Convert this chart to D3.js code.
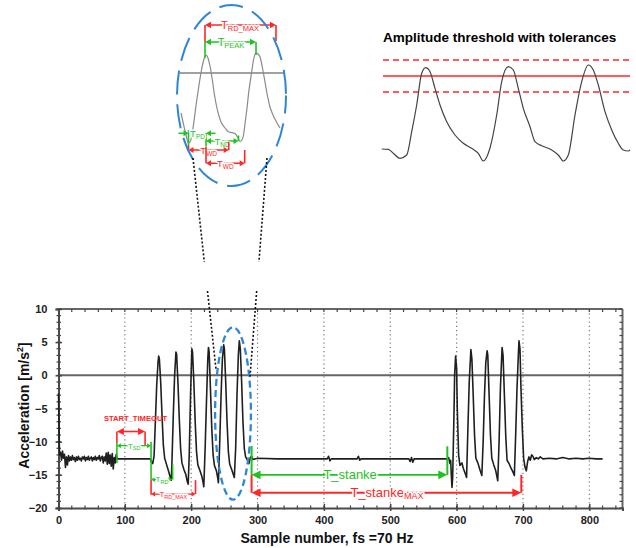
<!DOCTYPE html>
<html><head><meta charset="utf-8">
<script src="https://cdn.jsdelivr.net/npm/d3@7"></script>
<style>
body{margin:0;background:#fff}
svg{display:block;font-family:"Liberation Sans",Arial,sans-serif}
</style></head><body>
<svg id="c" width="636" height="548"></svg>
<script>
// ---------------- data ----------------
const sampleNumber = [0,1.5,3,4.5,6,7.5,9,10.5,12,13.5,15,16.5,18,19.5,21,22.5,24,25.5,27,28.5,30,31.5,33,34.5,36,37.5,39,40.5,42,43.5,45,46.5,48,49.5,51,52.5,54,55.5,57,58.5,60,61.5,63,64.5,66,67.5,69,70.5,72,73.5,75,76.5,78,79.5,81,82.5,84,85.5,87,88.5,
 138,140,142,144,146,148,150,151,152,154,156,158,160,163,166,168,170,171,173,175,177,178,180,182,184,186,189,192,194,195.5,197,199,201,202,204,206,208,210,213,216,218,219,221,223,225,226,227,229,231,233,235,238,240,241,243,245,247,249,250,252,254,256,258,261,263,265,267,269,271,272.5,274,276,278,280,282,285,287,289,291,293,
 300,330,360,395,405,407,409,411,430,450,452,454,456,490,528,530,532,534,536,560,586,588,
 590,591,592,593,594,596,597,598.5,600,601,603,605,608,610,613,615,617,619,621.5,623,625,627,629,632,635,638,640,642,644,646,647,649,651,653,656,659,662,664,666,668.5,670,672,674,676,679,682,685,687,689,691,693,694,695.5,697,699,701,703,705,707,709,711,713,715,717,720,723,726,730,740,750,760,770,780,790,800,810,820];
const acceleration = [-2.7,-12.0,-11.6,-12.8,-11.4,-12.5,-11.9,-13.9,-12.3,-13.5,-12.1,-12.9,-12.3,-12.8,-12.1,-12.7,-12.4,-13.0,-12.3,-12.8,-12.2,-12.7,-12.5,-12.9,-12.3,-12.6,-12.2,-12.9,-12.4,-12.7,-12.2,-12.8,-12.5,-12.3,-12.9,-12.4,-12.7,-12.2,-12.8,-12.4,-12.6,-12.1,-12.9,-12.4,-12.2,-13.2,-12.3,-12.9,-11.7,-13.4,-11.6,-13.3,-12.0,-13.7,-11.8,-14.1,-12.4,-13.2,-11.9,-12.6,
 -12.6,-13.0,-13.3,-12.2,-7,-1.5,2.0,2.9,2.5,-1,-6,-10.5,-12.5,-13.5,-14.5,-15.2,-15.8,-13,-6,0,3.5,3.2,-1,-6.5,-11,-13.2,-14.2,-15,-16,-16.4,-12,-3,4.0,3.5,-1,-7,-11.5,-13.5,-14.3,-15.2,-16.2,-16.8,-11,-4,2.5,4.2,3.6,-2,-8,-12,-13.6,-14.4,-15.5,-16.2,-10,-3,2.5,4.6,4.0,-1,-7,-11.5,-13.4,-14.2,-14.8,-15.4,-11,-3,3,5.2,4.0,-1,-7,-11,-12.3,-12.8,-13.3,-12.4,-12.2,-12.7,
 -12.5,-12.6,-12.6,-12.6,-12.6,-12.2,-12.9,-12.6,-12.6,-12.6,-12.2,-12.8,-12.6,-12.6,-12.6,-13.0,-12.4,-13.1,-12.6,-12.6,-12.6,-12.4,
 -13.3,-12.8,-15,-16.9,-15.5,-6,0,2.9,1,-5,-12,-13.6,-13.2,-14,-14.8,-15.4,-8,-1,3.9,2.5,-3,-9,-12.5,-13.2,-14.2,-15.1,-10,-3,2,3.7,3.0,-3,-9,-12.5,-13.5,-14.4,-15.9,-10,-2,4.2,3,-3,-9,-12.8,-13.3,-14,-14.6,-15.1,-9,-2,3,5.2,4.0,-2,-8,-12.5,-13.8,-14.4,-13,-12.3,-12.8,-12.0,-12.2,-12.7,-12.4,-12.6,-12.3,-12.6,-12.5,-12.6,-12.4,-12.6,-12.5,-12.6,-12.5,-12.6,-12.6];
const xTickValues = [0,100,200,300,400,500,600,700,800];
const yTickValues = [-20,-15,-10,-5,0,5,10];
const gridSamples = [100,200,300,400,500,600,700,800];

// inset A: zoomed single pulse (arbitrary units)
const pulseU = [1,3,6,8.5,10.5,13,16.5,19,21.5,24,26,28,30,32.5,34.5,36.5,39,41.5,45,48,51,53.5,55.5,57.5,60,62,63.5,65,67,69,71.5,73.5,76,78,80,82.5,85,87.5,90,93,96.5,100];
const pulseV = [37,28,15,7,9,22,48,65,80,91,95,92,84,69,55,44,34,27,22,18.5,17.5,17,16,13,8.5,10,15,26,42,60,77,90,97,96,93,82,68,54,43,35,28,22];
const pulseZeroLevel = 77;

// inset B: amplitude threshold with tolerances (arbitrary units)
const thrU = [1.7,8.3,13.3,20,26.7,31.7,36.7,41.7,45.7,50,55,60,66.7,75,83.3,91.7,98.3,103.3,110,116.7,121.7,128.3,133.3,138.3,143.3,150,155,161.7,171.7,178.3,183.3,188.3,195,201.7,208.3,213.3,218.3,225,231.7,238.3,243.3,248.3,250];
const thrV = [21,20.7,16.7,11.7,15,38.3,65,96.7,102.3,98.3,81.7,65,48.3,35,26.7,21.7,16.7,9,22,55,88.3,103.3,100,81.7,61.7,43.3,28.3,24.3,20,15,9,15,55,88.3,105,100,85,58.3,40,26.7,20,19,20];
const threshold = 94, tolerance = 16;

// ---------------- drawing ----------------
const svg = d3.select('#c');
const GREEN = '#1ec31e', RED = '#ff2626', BLUE = '#2e86d6';
const x = d3.scaleLinear().domain([0,850]).range([58.5,622.5]);
const y = d3.scaleLinear().domain([-20,10]).range([508,309]);

function tri(g, tx, ty, dir, len, half, color){
  g.append('path').attr('d',`M${tx},${ty}L${tx-dir*len},${ty-half}L${tx-dir*len},${ty+half}Z`).attr('fill',color);
}
function seg(g,x1,y1,x2,y2,color,w){
  g.append('line').attr('x1',x1).attr('y1',y1).attr('x2',x2).attr('y2',y2).attr('stroke',color).attr('stroke-width',w||1.5);
}
function dim(g,x1,x2,yy,color,len,half,w){
  seg(g,x1+len*0.5,yy,x2-len*0.5,yy,color,w);
  tri(g,x1,yy,-1,len,half,color); tri(g,x2,yy,1,len,half,color);
}
function tlabel(g,cx,by,main,sub,size,subSize,color,weight,subDy){
  const t = g.append('text').attr('x',cx).attr('y',by).attr('text-anchor','middle')
    .attr('fill',color).attr('font-weight',weight||'normal')
    .attr('stroke','#fff').attr('stroke-width',3).attr('paint-order','stroke').attr('stroke-linejoin','round');
  t.append('tspan').attr('font-size',size).text(main);
  if(sub) t.append('tspan').attr('font-size',subSize).attr('dy',subDy).text(sub);
  return t;
}

// grid
const plot = svg.append('g');
gridSamples.forEach(s=>{
  plot.append('line').attr('x1',x(s)).attr('x2',x(s)).attr('y1',y(10)).attr('y2',y(-20))
    .attr('stroke','#777').attr('stroke-width',1.2).attr('stroke-dasharray','1.2,3');
});
// frame: top & right & zero line
plot.append('line').attr('x1',x(0)).attr('x2',x(850)).attr('y1',y(10)).attr('y2',y(10)).attr('stroke','#666').attr('stroke-width',2);
plot.append('line').attr('x1',x(850)).attr('x2',x(850)).attr('y1',y(10)).attr('y2',y(-20)).attr('stroke','#666').attr('stroke-width',2);
plot.append('line').attr('x1',x(0)).attr('x2',x(850)).attr('y1',y(0)).attr('y2',y(0)).attr('stroke','#666').attr('stroke-width',2);

// minor ticks
const tk = svg.append('g').attr('stroke','#444').attr('stroke-width',1.2);
d3.range(0,851,20).forEach(s=>{
  tk.append('line').attr('x1',x(s)).attr('x2',x(s)).attr('y1',y(-20)-2.5).attr('y2',y(-20)+1.5);
  tk.append('line').attr('x1',x(s)).attr('x2',x(s)).attr('y1',y(10)).attr('y2',y(10)+3);
});
d3.range(-20,11,1).forEach(v=>{
  tk.append('line').attr('x1',x(0)-2).attr('x2',x(0)+2.5).attr('y1',y(v)).attr('y2',y(v));
  tk.append('line').attr('x1',x(850)-3).attr('x2',x(850)).attr('y1',y(v)).attr('y2',y(v));
});

// axes
const ax = svg.append('g').attr('transform',`translate(${x(0)},0)`)
  .call(d3.axisLeft(y).tickValues(yTickValues).tickSize(3).tickPadding(8));
ax.selectAll('.tick line').attr('x1',3.5).attr('stroke','#444').attr('stroke-width',1.4);
const bx = svg.append('g').attr('transform',`translate(0,${y(-20)})`)
  .call(d3.axisBottom(x).tickValues(xTickValues).tickSize(3).tickPadding(5));
bx.selectAll('.tick line').attr('y1',-4).attr('stroke','#444').attr('stroke-width',1.4);
[ax,bx].forEach(a=>{
  a.select('.domain').attr('stroke','#4a4a4a').attr('stroke-width',2);
  a.selectAll('text').attr('font-family','"Liberation Sans",Arial,sans-serif').attr('font-size',11).attr('font-weight','bold').attr('fill','#222');
});

// signal
const pts = d3.zip(sampleNumber, acceleration);
svg.append('path').datum(pts).attr('fill','none').attr('stroke','#1f1f1f').attr('stroke-width',1.6)
  .attr('stroke-linejoin','round')
  .attr('d', d3.line().x(d=>x(d[0])).y(d=>y(d[1])));

// axis titles
const yt = svg.append('text').attr('transform',`translate(29,${405.5}) rotate(-90)`).attr('text-anchor','middle')
  .attr('font-size',14).attr('font-weight','bold').attr('fill','#111');
yt.append('tspan').text('Acceleration [m/s');
yt.append('tspan').attr('font-size',9).attr('dy',-6).text('2');
yt.append('tspan').attr('dy',6).text(']');
svg.append('text').attr('x',327).attr('y',542.5).attr('text-anchor','middle')
  .attr('font-size',14).attr('font-weight','bold').attr('fill','#111').text('Sample number, fs =70 Hz');

// ---- main annotations ----
const an = svg.append('g');
// START_TIMEOUT
an.append('text').attr('x',x(116)).attr('y',y(-6.9)).attr('text-anchor','middle').attr('font-size',7.6)
  .attr('font-weight','bold').attr('fill',RED).text('START_TIMEOUT');
seg(an,x(88),y(-8.47),x(88),y(-10.2),RED,1.6);
seg(an,x(88),y(-10.2),x(88),y(-13.2),GREEN,1.6);
seg(an,x(130.5),y(-8.47),x(130.5),y(-10.5),RED,1.6);
dim(an,x(88),x(130.5),y(-8.47),RED,7,3.6,1.6);
// T_SD
dim(an,x(88),x(139.5),y(-10.6),GREEN,4,2.5,1.3);
seg(an,x(139.5),y(-10.0),x(139.5),y(-15.7),GREEN,1.6);
seg(an,x(139.5),y(-15.7),x(139.5),y(-18.0),RED,1.6);
tlabel(an,x(114),y(-10.6)+3,'T','SD',8,5.5,GREEN,'normal',1.5);
// T_RD
dim(an,x(139.5),x(172),y(-15.7),GREEN,4,2.5,1.3);
seg(an,x(172),y(-13.4),x(172),y(-15.7),GREEN,1.6);
tlabel(an,x(156),y(-15.7)+3,'T','RD',8,5.5,GREEN,'normal',1.5);
// T_RD_MAX
dim(an,x(139.5),x(206.5),y(-17.9),RED,4,2.5,1.3);
seg(an,x(206.5),y(-15.8),x(206.5),y(-17.9),RED,1.6);
tlabel(an,x(173),y(-17.9)+3,'T','RD_MAX',8,5.5,RED,'normal',1.5);
// T_stanke
seg(an,x(291),y(-10.65),x(291),y(-15.0),GREEN,2);
seg(an,x(586),y(-10.7),x(586),y(-15.0),GREEN,2);
dim(an,x(291),x(586),y(-15.0),GREEN,9,4.3,1.8);
tlabel(an,x(439.5),y(-15.0)+4,'T_stanke',null,13,0,GREEN,'normal',0);
// T_stanke_MAX
seg(an,x(291),y(-15.0),x(291),y(-17.7),RED,2);
seg(an,x(697.5),y(-15.0),x(697.5),y(-17.7),RED,2);
dim(an,x(291),x(697.5),y(-17.7),RED,9,4.3,1.8);
tlabel(an,x(495),y(-17.7)+4,'T_stanke','MAX',13,9,RED,'normal',2.5);
// highlight ellipse
svg.append('ellipse').attr('cx',x(263)).attr('cy',y(-5.75)).attr('rx',x(290)-x(263)).attr('ry',y(-18.75)-y(-5.75))
  .attr('fill','none').attr('stroke',BLUE).attr('stroke-width',2.3).attr('stroke-dasharray','7,4');

// ---------------- inset A ----------------
const iu = d3.scaleLinear().domain([0,100]).range([180,280]);
const iv = d3.scaleLinear().domain([0,100]).range([150,50]);
const ia = svg.append('g');
ia.append('line').attr('x1',iu(0)).attr('x2',iu(105)).attr('y1',iv(pulseZeroLevel)).attr('y2',iv(pulseZeroLevel))
  .attr('stroke','#444').attr('stroke-width',1.2);
ia.append('path').datum(d3.zip(pulseU,pulseV)).attr('fill','none').attr('stroke','#8a8a8a').attr('stroke-width',1.2)
  .attr('d',d3.line().curve(d3.curveMonotoneX).x(d=>iu(d[0])).y(d=>iv(d[1])));
// annotations (px inside inset space)
seg(ia,205,25,205,42,RED,1.6); seg(ia,276,25,276,41,RED,1.6);
dim(ia,205,276,25,RED,6,3.3,1.5);
tlabel(ia,240,29,'T','RD_MAX',11,7.5,RED,'normal',2);
seg(ia,205,42,205,58,GREEN,1.6); seg(ia,256,42,256,55,GREEN,1.6);
dim(ia,205,256,42,GREEN,6,3.3,1.5);
tlabel(ia,231,46,'T','PEAK',11,7.5,GREEN,'normal',2);
// T_PD (outside arrows)
seg(ia,178.5,133.3,184,133.3,GREEN,1.5); tri(ia,188.5,133.3,1,5,3,GREEN);
seg(ia,210,133.3,215.5,133.3,GREEN,1.5); tri(ia,206,133.3,-1,5,3,GREEN);
seg(ia,188.5,130,188.5,145,GREEN,1.6);
seg(ia,206,133,206,147,GREEN,1.6);
tlabel(ia,197.5,137,'T','PD',9.5,6.5,GREEN,'normal',1.5);
// T_ND
dim(ia,206,238.5,141,GREEN,5,3,1.4);
seg(ia,238.5,135.5,238.5,141,GREEN,1.6);
tlabel(ia,222,145,'T','ND',9.5,6.5,GREEN,'normal',1.5);
// T_WD 1
seg(ia,188.5,145,188.5,150,RED,1.6);
seg(ia,228.7,141.7,228.7,150,RED,1.6);
dim(ia,188.5,228.7,150,RED,5,3,1.4);
tlabel(ia,208.7,154,'T','WD',9.5,6.5,RED,'normal',1.5);
// T_WD 2
seg(ia,206,147,206,163.3,RED,1.6);
seg(ia,244.7,150,244.7,163.3,RED,1.6);
dim(ia,206,244.7,163.3,RED,5,3,1.4);
tlabel(ia,225.3,167.3,'T','WD',9.5,6.5,RED,'normal',1.5);
// inset ellipse
ia.append('ellipse').attr('cx',iu(51.5)).attr('cy',iv(54.5)).attr('rx',54.5).attr('ry',90.5)
  .attr('fill','none').attr('stroke',BLUE).attr('stroke-width',2).attr('stroke-dasharray','24,10').attr('stroke-dashoffset',6);

// connector dotted lines (from inset ellipse to highlight ellipse)
function connector(p0,p1){
  const f = t=>[p0[0]+(p1[0]-p0[0])*t, p0[1]+(p1[1]-p0[1])*t];
  const ta=(262-p0[1])/(p1[1]-p0[1]), tb=(291-p0[1])/(p1[1]-p0[1]);
  [[0,ta],[tb,1]].forEach(([a,b])=>{
    const A=f(a),B=f(b);
    svg.append('line').attr('x1',A[0]).attr('y1',A[1]).attr('x2',B[0]).attr('y2',B[1])
      .attr('stroke','#111').attr('stroke-width',1.6).attr('stroke-dasharray','2,2');
  });
}
connector([iu(13),iv(-8)],[x(237.5),y(0.8)]);
connector([iu(87),iv(-8)],[x(288.5),y(-0.4)]);

// ---------------- inset B ----------------
const bu = d3.scaleLinear().domain([0,250]).range([380,630]);
const bv = d3.scaleLinear().domain([0,110]).range([170,60]);
const ib = svg.append('g');
ib.append('text').attr('x',383).attr('y',42).attr('font-size',13.5).attr('font-weight','bold').attr('fill','#000')
  .text('Amplitude threshold with tolerances');
[[threshold+tolerance,'6,4'],[threshold,null],[threshold-tolerance,'6,4']].forEach(([v,da])=>{
  const l = ib.append('line').attr('x1',bu(3)).attr('x2',bu(250)).attr('y1',bv(v)).attr('y2',bv(v))
    .attr('stroke',RED).attr('stroke-width',1.5);
  if(da) l.attr('stroke-dasharray',da);
});
ib.append('path').datum(d3.zip(thrU,thrV)).attr('fill','none').attr('stroke','#444').attr('stroke-width',1.2)
  .attr('d',d3.line().curve(d3.curveMonotoneX).x(d=>bu(d[0])).y(d=>bv(d[1])));
</script>
</body></html>
